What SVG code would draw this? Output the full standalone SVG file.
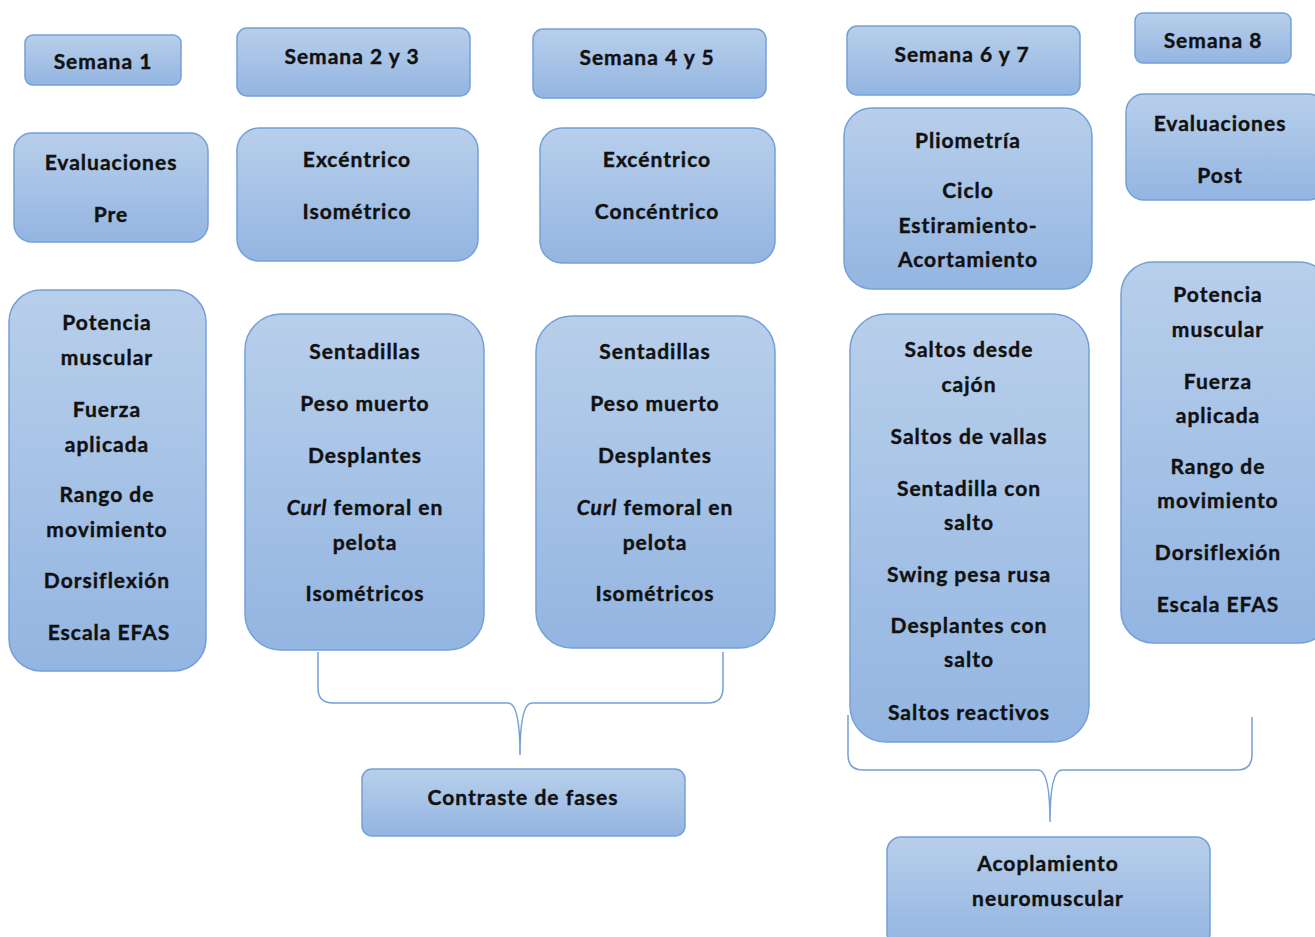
<svg xmlns="http://www.w3.org/2000/svg" width="1315" height="937" viewBox="0 0 1315 937">
<defs>
<linearGradient id="g" x1="0" y1="0" x2="0" y2="1">
<stop offset="0" stop-color="#b8cfeb"/>
<stop offset="1" stop-color="#93b5e1"/>
</linearGradient>
<style>
.b{fill:url(#g);stroke:#74a0d8;stroke-width:1.5}
text{font-family:Lato,"Liberation Sans",sans-serif;font-weight:700;font-size:21px;letter-spacing:1px;fill:#111;stroke:#111;stroke-width:0.4;text-anchor:middle}
.c{fill:none;stroke:#74a0d8;stroke-width:1.5}
</style>
</defs>
<rect width="1315" height="937" fill="#fff"/>
<g id="sem1"><rect class="b" x="25" y="35" width="156" height="50" rx="8"/><text x="103" y="69">Semana 1</text></g>
<g id="sem23"><rect class="b" x="237" y="28" width="233" height="68" rx="10"/><text x="352" y="64">Semana 2 y 3</text></g>
<g id="sem45"><rect class="b" x="533" y="29" width="233" height="69" rx="10"/><text x="647" y="65">Semana 4 y 5</text></g>
<g id="sem67"><rect class="b" x="847" y="26" width="233" height="69" rx="10"/><text x="962" y="62">Semana 6 y 7</text></g>
<g id="sem8"><rect class="b" x="1135" y="13" width="156" height="50" rx="8"/><text x="1213" y="48">Semana 8</text></g>
<g id="evalpre"><rect class="b" x="14" y="133" width="194" height="109" rx="18"/><text x="111" y="170">Evaluaciones</text><text x="111" y="222">Pre</text></g>
<g id="exciso"><rect class="b" x="237" y="128" width="241" height="133" rx="22"/><text x="357" y="167">Excéntrico</text><text x="357" y="219">Isométrico</text></g>
<g id="exccon"><rect class="b" x="540" y="128" width="235" height="135" rx="22"/><text x="657" y="167">Excéntrico</text><text x="657" y="219">Concéntrico</text></g>
<g id="plio"><rect class="b" x="844" y="108" width="248" height="181" rx="28"/><text x="968" y="148">Pliometría</text><text x="968" y="198">Ciclo</text><text x="968" y="233">Estiramiento-</text><text x="968" y="267">Acortamiento</text></g>
<g id="evalpost"><rect class="b" x="1126" y="94" width="200" height="106" rx="18"/><text x="1220" y="131">Evaluaciones</text><text x="1220" y="183">Post</text></g>
<g id="list1"><rect class="b" x="9" y="290" width="197" height="381" rx="32"/>
<text x="107" y="330">Potencia</text><text x="107" y="365">muscular</text><text x="107" y="417">Fuerza</text><text x="107" y="452">aplicada</text><text x="107" y="502">Rango de</text><text x="107" y="537">movimiento</text><text x="107" y="588">Dorsiflexión</text><text x="109" y="640">Escala EFAS</text></g>
<g id="list2"><rect class="b" x="245" y="314" width="239" height="336" rx="36"/>
<text x="365" y="359">Sentadillas</text><text x="365" y="411">Peso muerto</text><text x="365" y="463">Desplantes</text><text x="365" y="515"><tspan font-style="italic">Curl</tspan> femoral en</text><text x="365" y="550">pelota</text><text x="365" y="601">Isométricos</text></g>
<g id="list3"><rect class="b" x="536" y="316" width="239" height="332" rx="36"/>
<text x="655" y="359">Sentadillas</text><text x="655" y="411">Peso muerto</text><text x="655" y="463">Desplantes</text><text x="655" y="515"><tspan font-style="italic">Curl</tspan> femoral en</text><text x="655" y="550">pelota</text><text x="655" y="601">Isométricos</text></g>
<g id="list4"><rect class="b" x="850" y="314" width="239" height="428" rx="36"/>
<text x="969" y="357">Saltos desde</text><text x="969" y="392">cajón</text><text x="969" y="444">Saltos de vallas</text><text x="969" y="496">Sentadilla con</text><text x="969" y="530">salto</text><text x="969" y="582">Swing pesa rusa</text><text x="969" y="633">Desplantes con</text><text x="969" y="667">salto</text><text x="969" y="720">Saltos reactivos</text></g>
<g id="list5"><rect class="b" x="1121" y="262" width="210" height="381" rx="32"/>
<text x="1218" y="302">Potencia</text><text x="1218" y="337">muscular</text><text x="1218" y="389">Fuerza</text><text x="1218" y="423">aplicada</text><text x="1218" y="474">Rango de</text><text x="1218" y="508">movimiento</text><text x="1218" y="560">Dorsiflexión</text><text x="1218" y="612">Escala EFAS</text></g>
<g id="contraste"><rect class="b" x="362" y="769" width="323" height="67" rx="10"/><text x="523" y="805">Contraste de fases</text></g>
<g id="acopl"><rect class="b" x="887" y="837" width="323" height="110" rx="14"/><text x="1048" y="871">Acoplamiento</text><text x="1048" y="906">neuromuscular</text></g>
<g id="connectors">
<path class="c" d="M318 652 V688 Q318 703 333 703 H508 Q520 703 520 755 Q520 703 532 703 H708 Q723 703 723 688 V652"/>
<path class="c" d="M848 715 V755 Q848 770 863 770 H1038 Q1050 770 1050 822 Q1050 770 1062 770 H1237 Q1252 770 1252 755 V717"/>
</g>
</svg>
